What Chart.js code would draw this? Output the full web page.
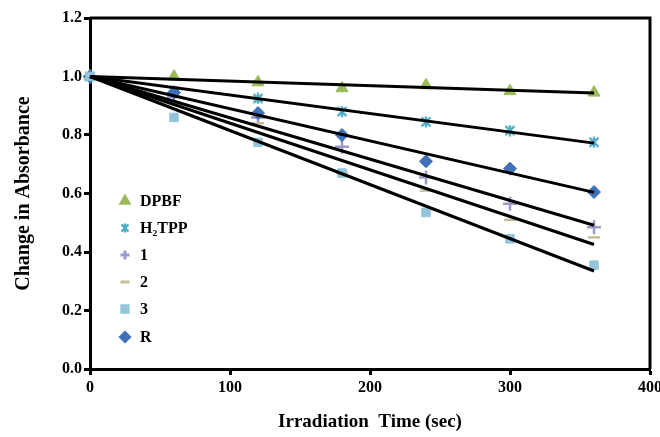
<!DOCTYPE html>
<html>
<head>
<meta charset="utf-8">
<script src="https://cdn.jsdelivr.net/npm/chart.js@4.4.1/dist/chart.umd.min.js"></script>
<style>
  html, body { margin: 0; padding: 0; background: #fff; }
  #wrap { width: 660px; height: 437px; }
</style>
</head>
<body>
<div id="wrap"><canvas id="decayChart" width="660" height="437"></canvas></div>
<script>
// data
const times = [0, 60, 120, 180, 240, 300, 360];
const dpbf  = [1.0, 1.0, 0.98, 0.96, 0.97, 0.95, 0.945];
const h2tpp = [1.0, 0.95, 0.925, 0.88, 0.845, 0.815, 0.775];
const cmp1  = [1.0, 0.93, 0.86, 0.76, 0.655, 0.565, 0.485];
const cmp2  = [1.0, 0.91, 0.84, 0.67, 0.61, 0.51, 0.45];
const cmp3  = [1.0, 0.86, 0.775, 0.67, 0.535, 0.445, 0.355];
const cmpR  = [1.0, 0.945, 0.875, 0.80, 0.71, 0.685, 0.605];

const seriesNames = ['DPBF', 'H\u2082TPP', '1', '2', '3', 'R'];
const xTicks = [0, 100, 200, 300, 400];
const yTicks = [0, 0.2, 0.4, 0.6, 0.8, 1.0, 1.2];

const serif = "'Liberation Serif', 'Times New Roman', serif";

// excel-like star marker (x with a vertical bar)
function starMarker(color, size) {
  const c = document.createElement('canvas');
  c.width = size; c.height = size;
  const g = c.getContext('2d');
  const m = size - 1.5;
  g.strokeStyle = color;
  g.lineWidth = 2.4;
  g.beginPath();
  g.moveTo(1.5, 1.5); g.lineTo(m, m);
  g.moveTo(m, 1.5); g.lineTo(1.5, m);
  g.moveTo(size / 2, 0.5); g.lineTo(size / 2, size - 0.5);
  g.stroke();
  return c;
}

const styles = [
  { color: '#9BBB59', point: 'triangle', r: 7 },
  { color: '#4BACC6', point: starMarker('#4BACC6', 12), small: starMarker('#4BACC6', 10), r: 6 },
  { color: '#9A9ACB', point: 'cross', r: 7 },
  { color: '#C4BD97', point: 'line', r: 6 },
  { color: '#93C6DC', point: 'rect', r: 6 },
  { color: '#3F70B8', point: 'rectRot', r: 6.5 }
];

const allSeries = [dpbf, h2tpp, cmp1, cmp2, cmp3, cmpR];
const markerOrder = [6, 5, 4, 3, 1, 2];

// linear trend forced through (0, 1)
function fitLine(vals) {
  let sxy = 0, sxx = 0;
  times.forEach((t, i) => { sxy += t * (vals[i] - 1); sxx += t * t; });
  const k = sxy / sxx;
  return [{ x: 0, y: 1 }, { x: 360, y: 1 + k * 360 }];
}

const datasets = [];
allSeries.forEach((vals, i) => {
  const s = styles[i];
  datasets.push({
    label: seriesNames[i],
    data: times.map((t, j) => ({ x: t, y: vals[j] })),
    showLine: false,
    pointStyle: s.point,
    pointRadius: s.r,
    pointBackgroundColor: s.color,
    pointBorderColor: s.color,
    pointBorderWidth: (s.point === 'cross' || s.point === 'line') ? 2.5 : 1,
    clip: false,
    order: markerOrder[i]
  });
});
allSeries.forEach((vals) => {
  datasets.push({
    label: 'fit',
    data: fitLine(vals),
    showLine: true,
    borderColor: '#000',
    borderWidth: 3,
    pointRadius: 0,
    clip: false,
    order: 0
  });
});

// legend inside the plot + frame on top/right
const insideLegend = {
  id: 'insideLegend',
  afterDraw(chart) {
    const ctx = chart.ctx;
    const a = chart.chartArea;
    ctx.save();
    ctx.strokeStyle = '#000';
    ctx.lineWidth = 3;
    ctx.beginPath();
    ctx.moveTo(a.left, a.top);
    ctx.lineTo(a.right, a.top);
    ctx.lineTo(a.right, a.bottom);
    ctx.stroke();

    const rowY = [201, 228, 255, 282, 309, 337];
    ctx.font = 'bold 16px ' + serif;
    ctx.textBaseline = 'middle';
    seriesNames.forEach((name, i) => {
      const s = styles[i];
      const y = rowY[i];
      const x = 125;
      ctx.save();
      ctx.fillStyle = s.color;
      ctx.strokeStyle = s.color;
      Chart.helpers.drawPoint(ctx, {
        pointStyle: s.small || s.point,
        radius: 4.5,
        rotation: 0,
        borderWidth: (s.point === 'cross' || s.point === 'line') ? 2.2 : 1
      }, x, y);
      ctx.restore();
      ctx.fillStyle = '#000';
      ctx.fillText(name, 140, y + 1);
    });
    ctx.restore();
  }
};

new Chart(document.getElementById('decayChart'), {
  type: 'scatter',
  data: { datasets: datasets },
  options: {
    responsive: false,
    animation: false,
    layout: { padding: { top: 18, right: 10, left: 0, bottom: 0 } },
    plugins: {
      legend: { display: false },
      tooltip: { enabled: false }
    },
    scales: {
      x: {
        type: 'linear',
        min: 0,
        max: 400,
        afterBuildTicks: (scale) => { scale.ticks = xTicks.map(v => ({ value: v })); },
        ticks: {
          color: '#000',
          font: { family: serif, size: 16, weight: 'bold' },
          padding: 3
        },
        grid: { drawOnChartArea: false, color: '#000', tickLength: 6, tickWidth: 3 },
        border: { color: '#000', width: 3 },
        title: {
          display: true,
          text: 'Irradiation  Time (sec)',
          color: '#000',
          font: { family: serif, size: 19, weight: 'bold' },
          padding: { top: 10 }
        },
        afterFit: (scale) => {
          scale.height = 68;
          scale.paddingRight = 0;
        }
      },
      y: {
        min: 0,
        max: 1.2,
        afterBuildTicks: (scale) => { scale.ticks = yTicks.map(v => ({ value: v })); },
        ticks: {
          color: '#000',
          font: { family: serif, size: 16, weight: 'bold' },
          padding: 2,
          callback: (v) => v.toFixed(1)
        },
        grid: { drawOnChartArea: false, color: '#000', tickLength: 6, tickWidth: 3 },
        border: { color: '#000', width: 3 },
        title: {
          display: true,
          text: 'Change in Absorbance',
          color: '#000',
          font: { family: serif, size: 20, weight: 'bold' },
          padding: { top: 12, bottom: 2 }
        },
        afterFit: (scale) => { scale.width = 90; }
      }
    }
  },
  plugins: [insideLegend]
});
</script>
</body>
</html>
